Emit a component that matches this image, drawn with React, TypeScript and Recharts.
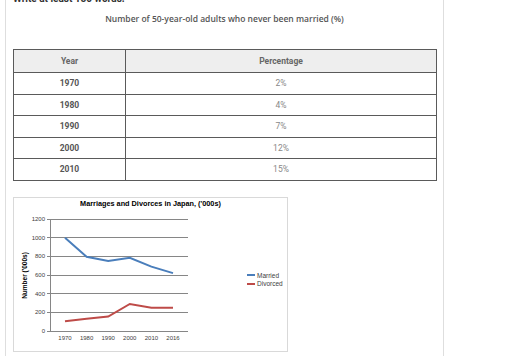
import React from 'react';
import {
  LineChart, Line, XAxis, YAxis, ReferenceLine, Legend
} from 'recharts';

// table data
const tableYears = ['1970', '1980', '1990', '2000', '2010'];
const tablePercent = ['2%', '4%', '7%', '12%', '15%'];

// chart data
const years = ['1970', '1980', '1990', '2000', '2010', '2016'];
const married = [1000, 795, 750, 785, 690, 620];
const divorced = [105, 130, 155, 290, 250, 248];
const seriesNames = ['Married', 'Divorced'];
const yTicks = [0, 200, 400, 600, 800, 1000, 1200];
const bandEdges = [0, 1, 2, 3, 4, 5, 6];

const chartData = years.map((y, i) => ({ year: y, married: married[i], divorced: divorced[i] }));

const MARRIED = '#4A7EBB';
const DIVORCED = '#BE4B48';
const GRID = '#868686';
const chartFont = '"Liberation Sans", Arial, sans-serif';

const cellBorder = '1px solid #5a5a5a';

const LegendBox = (props: any) => {
  const items = [...(props.payload || [])].sort(
    (a: any, b: any) => seriesNames.indexOf(a.value) - seriesNames.indexOf(b.value)
  );
  return (
    <div style={{ fontFamily: chartFont, fontSize: 6.5, color: '#404040' }}>
      {items.map((p: any) => (
        <div key={p.value} style={{ display: 'flex', alignItems: 'center', height: 8.5 }}>
          <span style={{ display: 'inline-block', width: 8, height: 2, background: p.color, marginRight: 2 }} />
          {p.value}
        </div>
      ))}
    </div>
  );
};

export default function App() {
  return (
    <div style={{ position: 'fixed', left: 0, top: 0, width: 512, height: 356, overflow: 'hidden', background: '#fff' }}>
      <style>{`
        .xl-chart .recharts-reference-line line,
        .xl-chart .recharts-cartesian-axis-line,
        .xl-chart .recharts-cartesian-axis-tick-line { shape-rendering: crispEdges; }
      `}</style>
      {/* card */}
      <div style={{ position: 'absolute', left: 5, top: -20, width: 437, height: 420, border: '1px solid #dedede' }} />
      <div style={{ position: 'absolute', left: 13, top: -7, fontFamily: 'Roboto, sans-serif', fontWeight: 700, fontSize: 10, lineHeight: '11px', color: '#333' }}>
        Write at least 150 words.
      </div>
      <div style={{ position: 'absolute', left: 13, top: 13, width: 423, textAlign: 'center', fontFamily: '"Open Sans", sans-serif', fontWeight: 600, fontSize: 8.5, lineHeight: '12px', color: '#555' }}>
        Number of 50-year-old adults who never been married (%)
      </div>

      <table style={{ position: 'absolute', left: 13, top: 49, width: 424, borderCollapse: 'collapse', fontFamily: 'Roboto, sans-serif', fontSize: 8.5, tableLayout: 'fixed' }}>
        <colgroup>
          <col style={{ width: 112 }} />
          <col />
        </colgroup>
        <thead>
          <tr style={{ height: 23, background: '#eeeeee' }}>
            <th style={{ border: cellBorder, color: '#666', fontWeight: 700, padding: 0 }}>Year</th>
            <th style={{ border: cellBorder, color: '#666', fontWeight: 700, padding: 0 }}>Percentage</th>
          </tr>
        </thead>
        <tbody>
          {tableYears.map((y, i) => (
            <tr key={y} style={{ height: 21.5 }}>
              <td style={{ border: cellBorder, textAlign: 'center', color: '#555', fontWeight: 700, padding: 0 }}>{y}</td>
              <td style={{ border: cellBorder, textAlign: 'center', color: '#888', padding: 0 }}>{tablePercent[i]}</td>
            </tr>
          ))}
        </tbody>
      </table>

      {/* excel-style chart */}
      <div className="xl-chart" style={{ position: 'absolute', left: 13, top: 197, width: 273, height: 153, border: '1px solid #d9d9d9', background: '#fff' }}>
        <div style={{ position: 'absolute', left: 0, top: 1, width: 273, textAlign: 'center', fontFamily: chartFont, fontWeight: 700, fontSize: 7.3, lineHeight: '9px', color: '#000' }}>
          Marriages and Divorces in Japan, ('000s)
        </div>
        <div style={{ position: 'absolute', left: -30, top: 73, width: 80, height: 9, lineHeight: '9px', textAlign: 'center', transform: 'rotate(-90deg)', fontFamily: chartFont, fontWeight: 700, fontSize: 6.5, color: '#000', whiteSpace: 'nowrap' }}>
          Number ('000s)
        </div>
        <LineChart width={273} height={153} data={chartData} margin={{ top: 21, right: 59, bottom: 6, left: 4 }}>
          {yTicks.map(t => (
            <ReferenceLine key={t} y={t} xAxisId="cat" stroke={GRID} strokeWidth={1} />
          ))}
          <ReferenceLine x={0} xAxisId="edges" stroke={GRID} strokeWidth={1} />
          <ReferenceLine x={6} xAxisId="edges" stroke="#c8c8c8" strokeWidth={1} />
          <XAxis xAxisId="edges" type="number" domain={[0, 6]} ticks={bandEdges} height={0}
            tick={false} tickSize={3} stroke={GRID} allowDataOverflow />
          <XAxis xAxisId="cat" dataKey="year" height={14} padding={{ left: 15, right: 15 }}
            axisLine={false} tickLine={false} tickSize={0} tickMargin={5}
            tick={{ fontSize: 6, fill: '#404040', fontFamily: chartFont }} interval={0} />
          <YAxis domain={[0, 1200]} ticks={yTicks} width={32} tickSize={3} tickMargin={2}
            stroke={GRID} tick={{ fontSize: 6, fill: '#404040', fontFamily: chartFont }} />
          <Legend layout="vertical" align="right" verticalAlign="top" content={<LegendBox />}
            wrapperStyle={{ top: 73, left: 233, width: 40 }} />
          <Line xAxisId="cat" dataKey="married" name="Married" stroke={MARRIED} strokeWidth={2} dot={false} isAnimationActive={false} />
          <Line xAxisId="cat" dataKey="divorced" name="Divorced" stroke={DIVORCED} strokeWidth={2} dot={false} isAnimationActive={false} />
        </LineChart>
      </div>
    </div>
  );
}
